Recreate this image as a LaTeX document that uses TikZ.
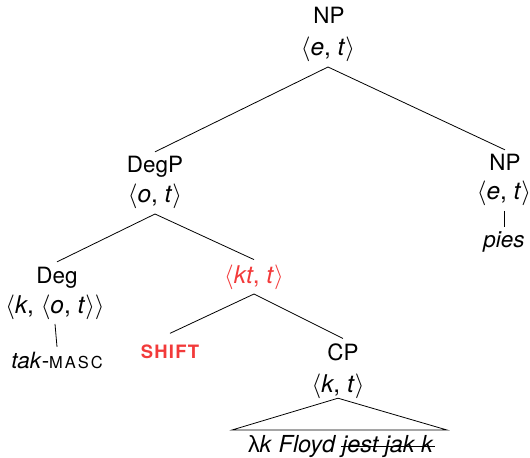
\documentclass[tikz,border=0pt]{standalone}
\usepackage{fontspec}
\setmainfont{TeX Gyre Heros}
\newfontfamily\greekfont{Liberation Sans}
\definecolor{shiftred}{RGB}{242,58,58}
% semantic types are set a little larger than the category labels
\newcommand{\tysize}{\fontsize{24.5}{29}\selectfont}
% semantic type pair <a, b>
\newcommand{\typair}[2]{{\tysize$\langle$\textit{#1}, \textit{#2}$\rangle$}}
% spaced small capitals used for glosses
\newcommand{\glosscaps}[1]{{\fontsize{16.5}{20}\selectfont\addfontfeature{LetterSpace=12}#1}}
% the SHIFT operator
\newcommand{\opcaps}[1]{{\fontsize{18.5}{22}\selectfont\bfseries\addfontfeature{LetterSpace=7}#1}}
\begin{document}
\begin{tikzpicture}[x=1bp,y=-1bp,
  font=\fontsize{22.5}{27}\selectfont,
  lab/.style={anchor=base, inner sep=0pt, outer sep=4.8bp},
  branch/.style={line width=0.8bp, black}]
\useasboundingbox (0,0) rectangle (530,458);

% root
\node[lab] (np)   at (329,24)  {NP};
\node[lab] (npT)  at (328,56)  {\typair{e}{t}};

% left daughter
\node[lab] (degp)  at (155,173) {DegP};
\node[lab] (degpT) at (155,203) {\typair{o}{t}};

% right daughter
\node[lab] (nb)   at (505,171) {NP};
\node[lab] (nbT)  at (504,200) {\typair{e}{t}};
\node[lab] (pies) at (504,248) {\textit{pies}};

% degree head
\node[lab] (deg)  at (57,283)  {Deg};
\node[lab] (degT) at (55,313)
  {{\tysize$\langle$\textit{k}, $\langle$\textit{o}, \textit{t}$\rangle\rangle$}};
\node[lab] (tak)  at (57,368)  {\textit{tak}-\glosscaps{MASC}};

% shifted node
\node[lab, text=shiftred] (kt) at (254,283) {\typair{kt}{t}};
\node[lab, text=shiftred, outer ysep=11bp] (shift) at (170,358)
  {\opcaps{SHIFT}};

% clause
\node[lab] (cp)  at (343,360) {CP};
\node[lab, outer sep=0pt] (cpT) at (338,392) {\typair{k}{t}};
\node[lab, outer sep=0pt, anchor=base west, font=\fontsize{23.5}{28}\selectfont]
  (fla) at (248,452) {{\greekfont λ}\textit{k} \textit{Floyd}};
\node[lab, outer sep=0pt, anchor=base west, font=\fontsize{23.5}{28}\selectfont]
  (flb) at ([xshift=6bp]fla.base east) {\textit{jest jak k}};
\coordinate (bl) at (232,430);
\coordinate (br) at (447,430);

% branches
\draw[branch] (npT.south) -- (degp.north);
\draw[branch] (npT.south) -- (nb.north);
\draw[branch] (nbT.south) -- (pies.north);
\draw[branch] (degpT.south) -- (deg.north);
\draw[branch] (degpT.south) -- (kt.north);
\draw[branch] (degT.south) -- (tak.north);
\draw[branch] (kt.south) -- (shift.north);
\draw[branch] (kt.south) -- (cp.north);
\draw[branch] (cpT.south) -- (bl) -- (br) -- cycle;
% deleted material is struck through
\draw[branch] ([xshift=-1bp,yshift=5.5bp]flb.base west) -- ([xshift=1bp,yshift=5.5bp]flb.base east);
\end{tikzpicture}
\end{document}
